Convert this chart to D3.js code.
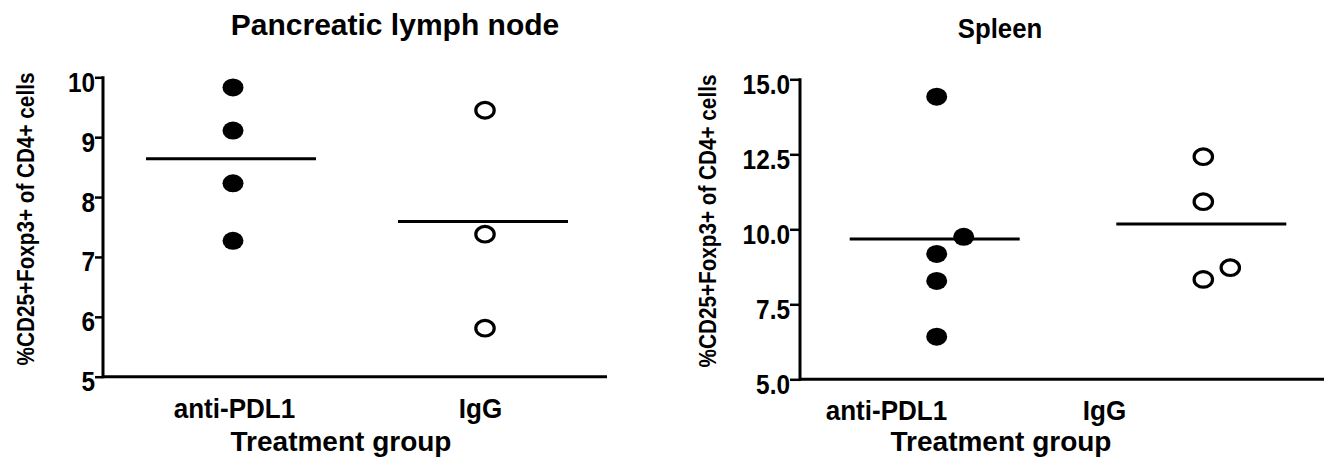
<!DOCTYPE html>
<html>
	<head>
		<title>Treg dot plots</title>
		<style type="text/css">
			body { margin: 0; background: #fff; }
			text { font-family: "Liberation Sans", Arial, sans-serif; font-weight: bold; fill: #000; }
		</style>
		<script src="https://cdn.jsdelivr.net/npm/d3@7/dist/d3.min.js"></script>
		<script type="text/javascript">
		// values
		var categories = ["anti-PDL1", "IgG"];
		var plnAnti = [9.83, 9.11, 8.23, 7.27];
		var plnIgG = [9.45, 7.38, 5.81];
		var plnMeans = [8.64, 7.59];
		var plnTicks = [5, 6, 7, 8, 9, 10];
		var splAnti = [14.42, 9.75, 9.18, 8.28, 6.42];
		var splIgG = [12.42, 10.92, 8.72, 8.33];
		var splMeans = [9.68, 10.18];
		var splTicks = [5, 7.5, 10, 12.5, 15];
		var yTitle = "%CD25+Foxp3+ of CD4+ cells";
		var xTitle = "Treatment group";

		// the original lettering is a little narrower than Arial bold
		function squeeze(sel, k) {
			sel.each(function() {
				var w = this.getComputedTextLength();
				d3.select(this).attr("textLength", w * k).attr("lengthAdjust", "spacingAndGlyphs");
			});
		}

		window.onload = function() {
			var svg = d3.select("#chart").append("svg")
				.attr("width", 1324)
				.attr("height", 460);

			function panel(opt) {
				var g = svg.append("g");
				var y = d3.scaleLinear().domain(opt.domain).range([opt.bottom, opt.top]);
				var x = d3.scalePoint().domain(categories).range(opt.pointRange);
				var xl = d3.scalePoint().domain(categories).range(opt.labelRange);

				// y axis
				var ya = g.append("g")
					.attr("transform", "translate(" + opt.left + ",0)")
					.call(d3.axisLeft(y).tickValues(opt.ticks).tickSize(opt.tickSize).tickPadding(0).tickFormat(opt.fmt));
				ya.select(".domain").attr("stroke-width", 3).attr("d", "M0," + (opt.bottom + 1.5) + "V" + (opt.top - 1));
				ya.selectAll(".tick line").attr("stroke-width", 2.5);
				ya.selectAll(".tick text")
					.attr("dy", "0.5em")
					.style("font-size", "28px")
					.style("font-family", "'Liberation Sans', Arial, sans-serif")
					.style("font-weight", "bold")
					.call(squeeze, 0.87);

				// x axis line
				g.append("line")
					.attr("x1", opt.left).attr("x2", opt.right)
					.attr("y1", y(opt.domain[0])).attr("y2", y(opt.domain[0]))
					.attr("stroke", "#000").attr("stroke-width", 3);

				var xa = g.append("g")
					.attr("transform", "translate(0," + y(opt.domain[0]) + ")")
					.call(d3.axisBottom(xl).tickSize(0).tickPadding(0));
				xa.select(".domain").remove();
				xa.selectAll(".tick text")
					.attr("dy", "1.46em")
					.style("font-size", "28px")
					.style("font-family", "'Liberation Sans', Arial, sans-serif")
					.style("font-weight", "bold")
					.call(squeeze, 0.93);

				// mean lines
				g.selectAll(".mean")
					.data(opt.means)
					.enter().append("line")
					.attr("x1", function(d, i) { return x(categories[i]) - 87; })
					.attr("x2", function(d, i) { return x(categories[i]) + 83; })
					.attr("y1", function(d) { return y(d); })
					.attr("y2", function(d) { return y(d); })
					.attr("stroke", "#000").attr("stroke-width", 3);

				// points, nudged sideways when two would overlap
				opt.series.forEach(function(vals, i) {
					var placed = [];
					vals.slice().sort(function(a, b) { return a - b; }).forEach(function(v) {
						var cy = y(v), shift = 0;
						placed.forEach(function(p) {
							if (Math.abs(p.cy - cy) < 19 && p.shift == shift) shift += 27;
						});
						placed.push({ v: v, cy: cy, shift: shift });
					});
					g.selectAll(".pt" + i)
						.data(placed)
						.enter().append("ellipse")
						.attr("cx", function(d) { return x(categories[i]) + d.shift; })
						.attr("cy", function(d) { return d.cy; })
						.attr("rx", i == 0 ? 10.5 : 9.2)
						.attr("ry", i == 0 ? 9 : 7.8)
						.attr("fill", i == 0 ? "#000" : "#fff")
						.attr("stroke", i == 0 ? "none" : "#000")
						.attr("stroke-width", 3.2);
				});

				// titles
				g.append("text")
					.attr("x", opt.titleX).attr("y", opt.titleY)
					.attr("text-anchor", "middle")
					.style("font-size", opt.titleSize + "px")
					.text(opt.title)
					.call(squeeze, opt.titleSqueeze);
				g.append("text")
					.attr("transform", "translate(" + opt.yTitleX + "," + opt.yTitleY + ") rotate(-90)")
					.attr("text-anchor", "middle")
					.attr("dy", "0.36em")
					.style("font-size", "23px")
					.text(yTitle)
					.call(squeeze, 0.9);
				g.append("text")
					.attr("x", opt.xTitleX).attr("y", 451)
					.attr("text-anchor", "middle")
					.style("font-size", "28px")
					.text(xTitle);
			}

			panel({
				domain: [5, 10], ticks: plnTicks, fmt: d3.format("d"),
				top: 77.3, bottom: 376.7, left: 103, right: 607, tickSize: 8,
				pointRange: [233, 485], labelRange: [234, 480],
				series: [plnAnti, plnIgG], means: plnMeans,
				title: "Pancreatic lymph node", titleX: 395, titleY: 35, titleSize: 30, titleSqueeze: 1,
				yTitleX: 26, yTitleY: 219, xTitleX: 341
			});
			panel({
				domain: [5, 15], ticks: splTicks, fmt: d3.format(".1f"),
				top: 79.3, bottom: 379.3, left: 800, right: 1324, tickSize: 10,
				pointRange: [936.7, 1203.3], labelRange: [886, 1104],
				series: [splAnti, splIgG], means: splMeans,
				title: "Spleen", titleX: 1000, titleY: 38, titleSize: 28, titleSqueeze: 0.92,
				yTitleX: 708, yTitleY: 221, xTitleX: 1001
			});
		}
		</script>
	</head>
	<body>
		<div id="chart"></div>
	</body>
</html>
